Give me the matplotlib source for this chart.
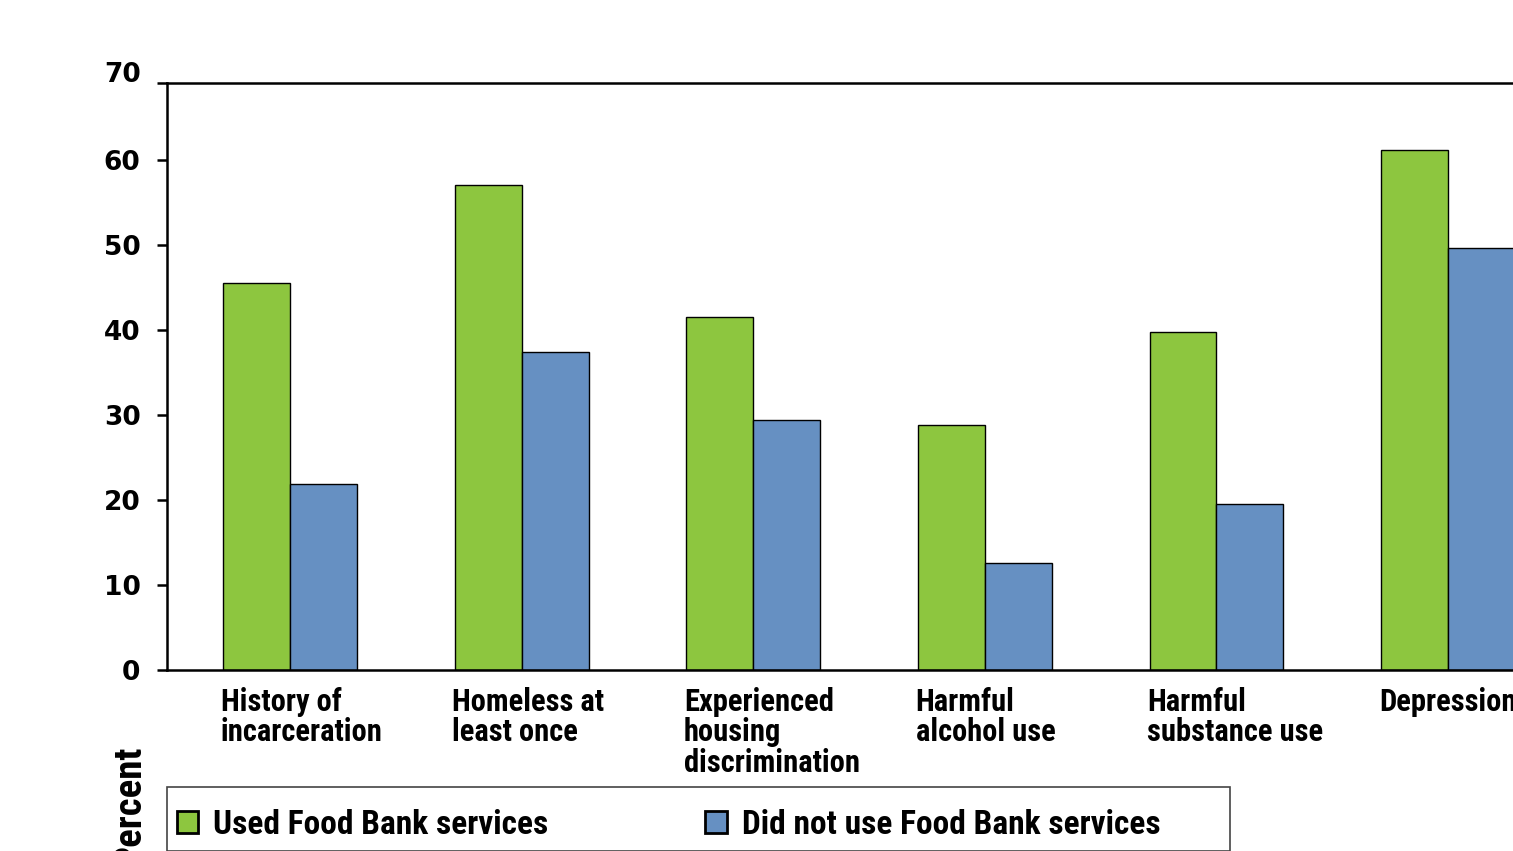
#!/usr/bin/env python3

import matplotlib
matplotlib.use("Agg")
import matplotlib.pyplot as plt
from matplotlib.patches import Patch, Rectangle
import numpy as np

# -----------------------------------------------------------------------------
# data
# -----------------------------------------------------------------------------

categories = [
    "History of\nincarceration",
    "Homeless at\nleast once",
    "Experienced\nhousing\ndiscrimination",
    "Harmful\nalcohol use",
    "Harmful\nsubstance use",
    "Depression",
]
used_food_bank = [45.5, 57.1, 41.5, 28.8, 39.8, 61.2]
no_food_bank = [21.9, 37.4, 29.4, 12.6, 19.5, 49.6]
series_names = ["Used Food Bank services", "Did not use Food Bank services"]
y_ticks = [0, 10, 20, 30, 40, 50, 60]

GREEN = "#8dc63f"
BLUE = "#6690c2"

plt.rcParams["font.family"] = ["Roboto Condensed", "Lato", "DejaVu Sans"]
plt.rcParams["font.weight"] = "bold"

# -----------------------------------------------------------------------------
# plot
# -----------------------------------------------------------------------------

W, H = 1513, 851
fig = plt.figure(figsize=(W / 100, H / 100), dpi=100)

# axes box in pixels: y-axis at x=167, baseline at y=670, top frame at y=83
ax = fig.add_axes([167 / W, (H - 670) / H, (1600 - 167) / W, 587 / H])

x = np.arange(len(categories))
w = 0.289
ax.bar(x - w / 2, used_food_bank, w, color=GREEN, edgecolor="black", linewidth=1.0)
ax.bar(x + w / 2, no_food_bank, w, color=BLUE, edgecolor="black", linewidth=1.0)

ax.set_xlim(-0.531, 5.656)
ax.set_ylim(0, 69.06)

for side in ["top", "left", "bottom"]:
    ax.spines[side].set_linewidth(1.8)
ax.spines["right"].set_visible(False)

# y ticks, plus a stub at the top frame where the 70 label sits
ax.set_yticks(y_ticks + [69.06])
ax.set_yticklabels([str(v) for v in y_ticks] + [""],
                   family="DejaVu Sans", fontsize=19, fontweight="bold")
ax.tick_params(axis="y", direction="out", length=7, width=1.8, pad=12)
ax.text(-26 / 1433, 70, "70", transform=ax.get_yaxis_transform(),
        ha="right", va="center", family="DejaVu Sans",
        fontsize=19, fontweight="bold", clip_on=False)

ax.set_xticks(x - w - 0.01)
ax.set_xticklabels(categories, ha="left", fontsize=22, fontweight="bold",
                   linespacing=1.03)
ax.tick_params(axis="x", length=0, pad=12)

fig.text(148 / W, 1 - 745 / H, "Percent", rotation=90, ha="right", va="top",
         fontsize=28, fontweight="bold")

# legend frame runs off the bottom edge
fig.add_artist(Rectangle((167 / W, 0), (1230 - 167) / W, (H - 787) / H,
                         transform=fig.transFigure, fill=False,
                         edgecolor="#444444", linewidth=1.2))
handles = [Patch(facecolor=GREEN, edgecolor="black", linewidth=2),
           Patch(facecolor=BLUE, edgecolor="black", linewidth=2)]
ax.legend(handles, series_names, ncol=2, frameon=False,
          loc="upper left", bbox_to_anchor=(177 / W, 1 - 809 / H),
          bbox_transform=fig.transFigure, borderpad=0, borderaxespad=0,
          fontsize=24, handlelength=0.64, handleheight=0.64,
          handletextpad=0.45, columnspacing=4.7)

fig.savefig("out.png", dpi=100)
